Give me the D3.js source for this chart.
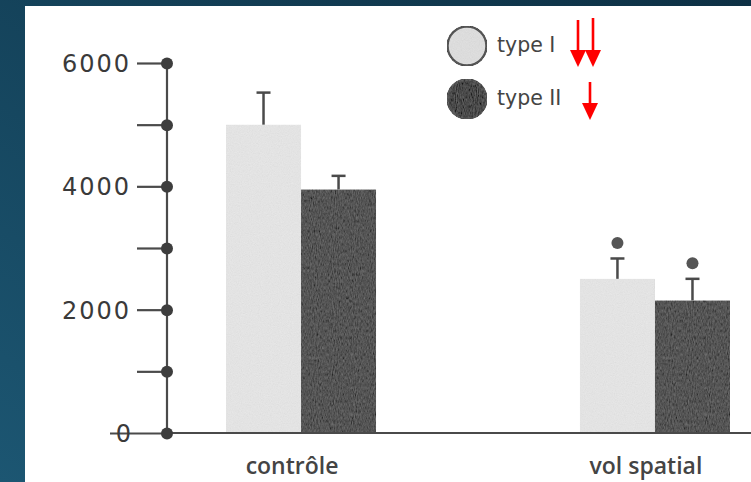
<!DOCTYPE html>
<html>
<head>
<meta charset="utf-8">
<script src="https://cdn.jsdelivr.net/npm/d3@7"></script>
<style>
  html, body { margin: 0; padding: 0; background: #123f57; }
  svg { display: block; }
</style>
</head>
<body>
<script>
// Fibre type areas (µm²) before and after spaceflight
const categories = ["contrôle", "vol spatial"];
const seriesNames = ["type I", "type II"];
const typeI = [5000, 2500];
const typeII = [3950, 2150];
const errTypeI = [520, 330];
const errTypeII = [220, 350];
const significant = [false, true];
const yTickValues = [0, 1000, 2000, 3000, 4000, 5000, 6000];
const yTickLabels = ["0", "", "2000", "", "4000", "", "6000"];
const downArrows = [2, 1];

const W = 751, H = 482;
const ink = "#4a4a4a";
const fills = ["#e3e3e3", "#555555"];

const svg = d3.select("body").append("svg").attr("width", W).attr("height", H);
const defs = svg.append("defs");

const bg = defs.append("linearGradient").attr("id", "bg")
  .attr("x1", "0%").attr("y1", "100%").attr("x2", "100%").attr("y2", "0%");
bg.append("stop").attr("offset", "0%").attr("stop-color", "#1c5672");
bg.append("stop").attr("offset", "100%").attr("stop-color", "#0d3044");

// printed grain for the shaded bars
function grain(id, freq, amount) {
  const f = defs.append("filter").attr("id", id)
    .attr("x", 0).attr("y", 0).attr("width", 1).attr("height", 1);
  f.append("feTurbulence").attr("type", "fractalNoise").attr("baseFrequency", freq)
    .attr("numOctaves", 2).attr("seed", 4).attr("result", "n");
  f.append("feColorMatrix").attr("in", "n").attr("type", "matrix")
    .attr("values", "0.33 0.33 0.33 0 0  0.33 0.33 0.33 0 0  0.33 0.33 0.33 0 0  0 0 0 0 1")
    .attr("result", "g");
  f.append("feComposite").attr("in", "SourceGraphic").attr("in2", "g")
    .attr("operator", "arithmetic").attr("k1", 0).attr("k2", 1).attr("k3", amount).attr("k4", -amount / 2)
    .attr("result", "m");
  f.append("feComposite").attr("in", "m").attr("in2", "SourceAlpha").attr("operator", "in");
}
grain("grainLight", "0.9", 0.16);
grain("grainDark", "0.95 0.3", 0.28);
const filters = ["url(#grainLight)", "url(#grainDark)"];

svg.append("rect").attr("width", W).attr("height", H).attr("fill", "url(#bg)");
svg.append("rect").attr("x", 25).attr("y", 6).attr("width", W - 25).attr("height", H - 6).attr("fill", "#ffffff");

const axisX = 167;
const y = d3.scaleLinear().domain([0, 6000]).range([433, 63]);
const x0 = d3.scaleBand().domain(categories).range([226, 730]).paddingInner(0.576).paddingOuter(0);
const x1 = d3.scaleBand().domain(seriesNames).range([0, x0.bandwidth()]).padding(0);

// bars
const groups = svg.append("g").selectAll("g").data(categories).join("g")
  .attr("transform", d => `translate(${x0(d)},0)`);

const barData = (c, i) => seriesNames.map((s, k) => ({
  cat: c, series: s, k,
  value: k === 0 ? typeI[i] : typeII[i],
  err: k === 0 ? errTypeI[i] : errTypeII[i],
  sig: significant[i]
}));

groups.selectAll("rect").data((c, i) => barData(c, i)).join("rect")
  .attr("x", d => x1(d.series))
  .attr("y", d => y(d.value))
  .attr("width", x1.bandwidth())
  .attr("height", d => y(0) - y(d.value))
  .attr("fill", d => fills[d.k])
  .attr("filter", d => filters[d.k]);

// error bars
const eb = groups.selectAll("g.err").data((c, i) => barData(c, i)).join("g").attr("class", "err")
  .attr("transform", d => `translate(${x1(d.series) + x1.bandwidth() / 2},0)`);
eb.append("line").attr("x1", 0).attr("x2", 0)
  .attr("y1", d => y(d.value)).attr("y2", d => y(d.value + d.err))
  .attr("stroke", ink).attr("stroke-width", 2.5);
eb.append("line").attr("x1", -7).attr("x2", 7)
  .attr("y1", d => y(d.value + d.err)).attr("y2", d => y(d.value + d.err))
  .attr("stroke", ink).attr("stroke-width", 2.5);
eb.filter(d => d.sig).append("circle")
  .attr("cx", 0).attr("cy", d => y(d.value + d.err) - 15.5).attr("r", 6)
  .attr("fill", "#555");

// baseline
svg.append("line").attr("x1", axisX).attr("x2", W).attr("y1", y(0)).attr("y2", y(0))
  .attr("stroke", ink).attr("stroke-width", 2.2);

// vertical axis with dotted ticks
const axis = d3.axisLeft(y).tickValues(yTickValues)
  .tickFormat((d, i) => yTickLabels[i]).tickSize(30).tickSizeOuter(0).tickPadding(6);
const ag = svg.append("g").attr("transform", `translate(${axisX},0)`).call(axis);
ag.select(".domain").attr("stroke", ink).attr("stroke-width", 2.2).attr("d", `M0,${y(6000)}V${y(0)}`);
ag.selectAll(".tick line").attr("stroke", ink).attr("stroke-width", 2.2);
ag.selectAll(".tick").filter(d => d === 0).select("line").attr("x2", -57);
ag.selectAll(".tick").filter(d => d === 0).select("text").attr("dx", "2");
ag.selectAll(".tick text")
  .attr("font-family", "DejaVu Sans, sans-serif").attr("font-size", 24)
  .attr("letter-spacing", 2).attr("fill", "#3a3a3a").attr("dy", "0.36em");
ag.selectAll(".tick").append("circle").attr("r", 6).attr("fill", "#3d3d3d");

// category labels
svg.append("g").selectAll("text").data(categories).join("text")
  .attr("x", d => x0(d) + x0.bandwidth() / 2 - 9)
  .attr("y", 474)
  .attr("text-anchor", "middle")
  .attr("font-family", "Open Sans, sans-serif").attr("font-weight", 600)
  .attr("font-size", 23).attr("fill", "#444")
  .text(d => d);

// legend
const lg = svg.append("g").attr("transform", "translate(467,46)");
const li = lg.selectAll("g").data(seriesNames).join("g")
  .attr("transform", (d, i) => `translate(0,${i * 53})`);
li.append("circle").attr("r", 19.5)
  .attr("fill", (d, i) => i === 0 ? "#dcdcdc" : "#4a4a4a")
  .attr("stroke", "#555").attr("stroke-width", 2.5)
  .attr("filter", (d, i) => filters[i]);
li.append("text").attr("x", 30).attr("y", 6)
  .attr("font-family", "DejaVu Sans, sans-serif").attr("font-size", 20.5)
  .attr("fill", "#444").text(d => d);

// decrease arrows beside the legend
const arrowX = [[111, 126], [123]];
li.each(function (d, i) {
  const g = d3.select(this);
  for (let a = 0; a < downArrows[i]; a++) {
    const ax = arrowX[i][a];
    const top = i === 0 ? -26 - a * 2 : -17;
    g.append("line").attr("x1", ax).attr("x2", ax).attr("y1", top).attr("y2", 8)
      .attr("stroke", "#ff0000").attr("stroke-width", 2.6);
    g.append("path").attr("d", `M${ax - 8},4L${ax + 8},4L${ax},21Z`).attr("fill", "#ff0000");
  }
});
</script>
</body>
</html>
